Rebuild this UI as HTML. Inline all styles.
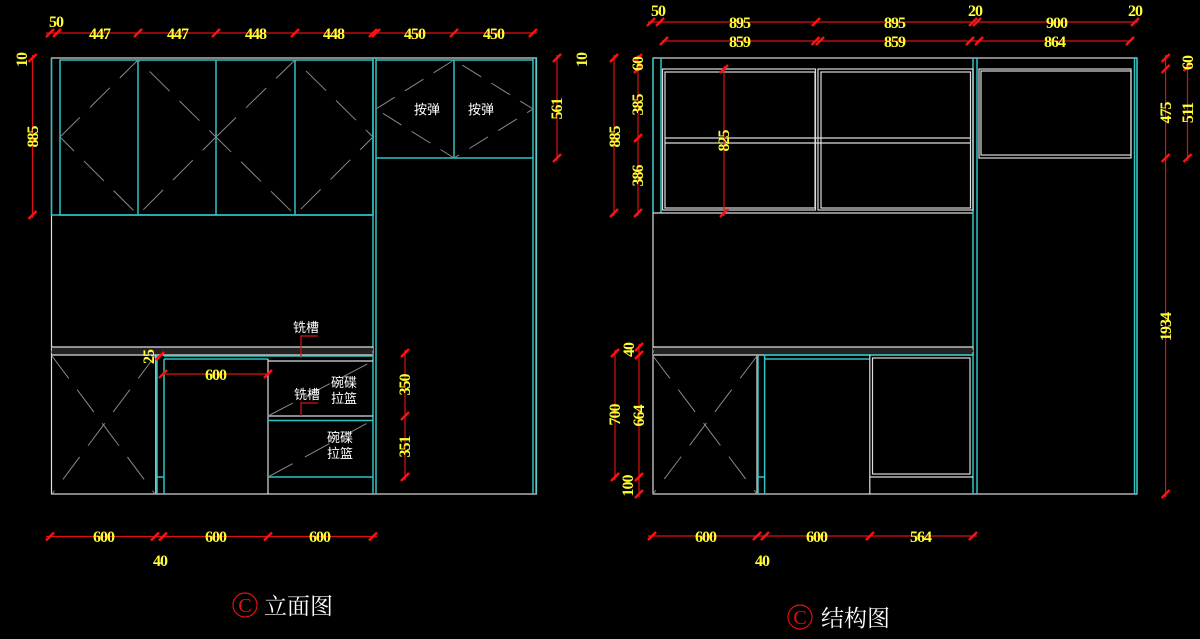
<!DOCTYPE html>
<html><head><meta charset="utf-8"><style>
html,body{margin:0;padding:0;background:#000;width:1200px;height:639px;overflow:hidden}
svg{display:block}
.y{fill:#ffff33;font-family:"Liberation Serif",serif;font-weight:bold;font-size:16px;letter-spacing:-1px}
.w{fill:#fff;font-family:"Liberation Sans","Noto Sans CJK SC",sans-serif;font-size:13px}
.c{stroke:#2cc4c4;stroke-width:1.5;fill:none}
.g{stroke:#ddd;stroke-width:1.2;fill:none}
.d{stroke:#888;stroke-width:1;fill:none;stroke-dasharray:28 14}
.r{stroke:#e01010;stroke-width:1.2;fill:none}
</style></head><body>
<svg width="1200" height="639" viewBox="0 0 1200 639" xmlns="http://www.w3.org/2000/svg">
<defs><g id="t"><line x1="-4" y1="4" x2="4" y2="-4" stroke="#ff1010" stroke-width="2.5"/></g></defs>

<rect x="51.5" y="58" width="485" height="436" class="g"/>
<line x1="51.5" y1="58" x2="51.5" y2="215" class="c"/>
<rect x="60" y="60" width="313" height="155" class="c"/>
<line x1="51.5" y1="215" x2="373" y2="215" class="c"/>
<line x1="138" y1="60" x2="138" y2="215" class="c"/>
<line x1="216" y1="60" x2="216" y2="215" class="c"/>
<line x1="295" y1="60" x2="295" y2="215" class="c"/>
<path class="d" d="M60,137 L138,60 L216,137 L138,215 Z M216,137 L295,60 L373,137 L295,215 Z"/>
<line x1="373" y1="58" x2="373" y2="494" class="c"/>
<line x1="376" y1="58" x2="376" y2="494" class="c"/>
<line x1="533" y1="58" x2="533" y2="494" class="c"/>
<line x1="536" y1="58" x2="536" y2="494" class="c"/>
<line x1="376" y1="60" x2="533" y2="60" class="c"/>
<line x1="376" y1="158" x2="533" y2="158" class="c"/>
<line x1="454" y1="60" x2="454" y2="158" class="c"/>
<path class="d" d="M376,109 L454,60 L533,109 L454,158 Z" style="stroke-dasharray:22 12"/>
<text class="w" x="414" y="114">按弹</text>
<text class="w" x="468" y="114">按弹</text>
<rect x="51.5" y="347" width="321.5" height="8" fill="#222" stroke="#ccc" stroke-width="1" stroke-dasharray="3 2"/>
<line x1="51.5" y1="347" x2="373" y2="347" class="g"/>
<line x1="51.5" y1="355" x2="373" y2="355" class="g"/>
<line x1="155.8" y1="355" x2="155.8" y2="494" class="g"/>
<line x1="157" y1="355" x2="157" y2="494" class="c"/>
<line x1="164" y1="359" x2="164" y2="494" class="c"/>
<line x1="164" y1="359" x2="268" y2="359" class="c"/>
<line x1="157" y1="477" x2="164" y2="477" class="c"/>
<line x1="268" y1="359" x2="268" y2="494" class="g"/>
<path class="d" d="M52,356 L155,494 M155,356 L52,494"/>
<line x1="164" y1="356" x2="373" y2="356" class="c"/>
<line x1="268" y1="361" x2="373" y2="361" class="g"/>
<line x1="268" y1="416" x2="373" y2="416" class="g"/>
<line x1="268" y1="420.5" x2="373" y2="420.5" class="c"/>
<line x1="268" y1="477" x2="373" y2="477" class="c"/>
<line x1="268" y1="416" x2="373" y2="361" class="d"/>
<line x1="268" y1="477" x2="373" y2="420" class="d"/>
<text class="w" x="293" y="332">铣槽</text>
<path class="r" d="M318,336 L301,336 L301,358"/>
<text class="w" x="294" y="399">铣槽</text>
<path class="r" d="M318,403 L301,403 L301,416"/>
<text class="w" x="331" y="387">碗碟</text>
<text class="w" x="331" y="403">拉篮</text>
<text class="w" x="327" y="442">碗碟</text>
<text class="w" x="327" y="458">拉篮</text>

<line x1="46" y1="33" x2="537" y2="33" class="r"/>
<use href="#t" x="50" y="33"/><use href="#t" x="57" y="33"/><use href="#t" x="138" y="33"/><use href="#t" x="216" y="33"/><use href="#t" x="295" y="33"/><use href="#t" x="373" y="33"/><use href="#t" x="376" y="33"/><use href="#t" x="454" y="33"/><use href="#t" x="533" y="33"/>
<text class="y" x="49" y="27">50</text>
<text class="y" x="89" y="39">447</text><text class="y" x="167" y="39">447</text><text class="y" x="245" y="39">448</text><text class="y" x="323" y="39">448</text><text class="y" x="404" y="39">450</text><text class="y" x="483" y="39">450</text>
<line x1="32.5" y1="55" x2="32.5" y2="218" class="r"/>
<use href="#t" x="32.5" y="58"/><use href="#t" x="32.5" y="215"/>
<text class="y" transform="translate(27,60) rotate(-90)" text-anchor="middle">10</text>
<text class="y" transform="translate(38,137) rotate(-90)" text-anchor="middle">885</text>
<line x1="557" y1="55" x2="557" y2="161" class="r"/>
<use href="#t" x="557" y="58"/><use href="#t" x="557" y="158"/>
<text class="y" transform="translate(562,109) rotate(-90)" text-anchor="middle">561</text>
<text class="y" transform="translate(587,60) rotate(-90)" text-anchor="middle">10</text>
<line x1="405" y1="350" x2="405" y2="480" class="r"/>
<use href="#t" x="405" y="353"/><use href="#t" x="405" y="416"/><use href="#t" x="405" y="477"/>
<text class="y" transform="translate(410,385) rotate(-90)" text-anchor="middle">350</text>
<text class="y" transform="translate(410,447) rotate(-90)" text-anchor="middle">351</text>
<text class="y" transform="translate(154,357) rotate(-90)" text-anchor="middle">25</text>
<use href="#t" x="160" y="356"/>
<line x1="163" y1="374" x2="268" y2="374" class="r"/>
<use href="#t" x="163" y="374"/><use href="#t" x="268" y="374"/>
<text class="y" x="205" y="380">600</text>
<line x1="46" y1="536.5" x2="377" y2="536.5" class="r"/>
<use href="#t" x="50" y="536.5"/><use href="#t" x="155" y="536.5"/><use href="#t" x="163" y="536.5"/><use href="#t" x="268" y="536.5"/><use href="#t" x="373" y="536.5"/>
<text class="y" x="93" y="542">600</text><text class="y" x="205" y="542">600</text><text class="y" x="309" y="542">600</text>
<text class="y" x="153" y="566">40</text>
<circle cx="245" cy="605" r="12" fill="none" stroke="#e01010" stroke-width="1.2"/>
<text x="245" y="612" text-anchor="middle" fill="#e01010" font-family="Liberation Serif,serif" font-size="20">C</text>
<text x="264" y="614" fill="#fff" font-family="Liberation Serif,'Noto Serif CJK SC',serif" font-size="23">立面图</text>

<rect x="653" y="58" width="484" height="436" class="g"/>
<line x1="653" y1="58" x2="653" y2="213" class="c"/>
<line x1="661" y1="58" x2="661" y2="213" class="c"/>
<line x1="653" y1="213" x2="973" y2="213" class="g"/>
<line x1="973" y1="58" x2="973" y2="494" class="c"/>
<line x1="977" y1="58" x2="977" y2="494" class="c"/>
<line x1="1134.5" y1="58" x2="1134.5" y2="494" class="c"/>
<line x1="1137" y1="58" x2="1137" y2="494" class="c"/>
<rect x="662.5" y="69" width="153" height="141" class="g"/>
<rect x="665" y="72" width="150" height="136" class="g"/>
<rect x="818" y="69" width="155" height="141" class="g"/>
<rect x="821" y="72" width="149.5" height="136" class="g"/>
<line x1="665" y1="138" x2="970" y2="138" class="g"/><line x1="665" y1="143" x2="970" y2="143" class="g"/>
<rect x="979" y="69" width="152" height="89" class="g"/>
<rect x="981" y="71" width="150" height="84" class="g"/>
<rect x="653" y="347" width="320" height="8" fill="#222" stroke="#ccc" stroke-width="1" stroke-dasharray="3 2"/>
<line x1="653" y1="347" x2="973" y2="347" class="g"/><line x1="653" y1="355" x2="973" y2="355" class="g"/>
<line x1="757" y1="355" x2="757" y2="494" class="g"/>
<line x1="758" y1="355" x2="758" y2="494" class="c"/>
<line x1="764.6" y1="355" x2="764.6" y2="494" class="c"/>
<line x1="764.6" y1="359" x2="869.8" y2="359" class="c"/>
<line x1="758" y1="477" x2="764.6" y2="477" class="c"/>
<line x1="764" y1="355" x2="973" y2="355" class="c"/>
<path class="d" d="M653,356 L757,494 M757,356 L653,494"/>
<line x1="869.8" y1="355" x2="869.8" y2="494" class="g"/>
<rect x="872.5" y="358" width="97.5" height="116" class="g"/>
<line x1="869.8" y1="477" x2="973" y2="477" class="g"/>

<line x1="648" y1="22" x2="1138" y2="22" class="r"/>
<use href="#t" x="651" y="22"/><use href="#t" x="660" y="22"/><use href="#t" x="816" y="22"/><use href="#t" x="973" y="22"/><use href="#t" x="977" y="22"/><use href="#t" x="1135" y="22"/>
<text class="y" x="651" y="16">50</text><text class="y" x="968" y="16">20</text><text class="y" x="1128" y="16">20</text>
<text class="y" x="729" y="28">895</text><text class="y" x="884" y="28">895</text><text class="y" x="1046" y="28">900</text>
<line x1="662" y1="41" x2="1132" y2="41" class="r"/>
<use href="#t" x="664" y="41"/><use href="#t" x="815.5" y="41"/><use href="#t" x="820" y="41"/><use href="#t" x="970" y="41"/><use href="#t" x="979" y="41"/><use href="#t" x="1130" y="41"/>
<text class="y" x="729" y="47">859</text><text class="y" x="884" y="47">859</text><text class="y" x="1044" y="47">864</text>
<line x1="614" y1="55" x2="614" y2="216" class="r"/>
<use href="#t" x="614" y="58"/><use href="#t" x="614" y="213"/>
<text class="y" transform="translate(620,137) rotate(-90)" text-anchor="middle">885</text>
<line x1="638" y1="55" x2="638" y2="216" class="r"/>
<use href="#t" x="638" y="58"/><use href="#t" x="638" y="69"/><use href="#t" x="638" y="138"/><use href="#t" x="638" y="213"/>
<text class="y" transform="translate(643,64) rotate(-90)" text-anchor="middle">60</text>
<text class="y" transform="translate(643,105) rotate(-90)" text-anchor="middle">385</text>
<text class="y" transform="translate(643,176) rotate(-90)" text-anchor="middle">386</text>
<line x1="724" y1="66" x2="724" y2="216" class="r"/>
<use href="#t" x="724" y="69"/><use href="#t" x="724" y="213"/>
<text class="y" transform="translate(729,141) rotate(-90)" text-anchor="middle">825</text>
<line x1="1165.6" y1="55" x2="1165.6" y2="497" class="r"/>
<use href="#t" x="1165.6" y="58"/><use href="#t" x="1165.6" y="69"/><use href="#t" x="1165.6" y="158"/><use href="#t" x="1165.6" y="494"/>
<text class="y" transform="translate(1171,113) rotate(-90)" text-anchor="middle">475</text>
<text class="y" transform="translate(1171,327) rotate(-90)" text-anchor="middle">1934</text>
<line x1="1187.5" y1="64" x2="1187.5" y2="161" class="r"/>
<use href="#t" x="1187.5" y="67"/><use href="#t" x="1187.5" y="158"/>
<text class="y" transform="translate(1193,63) rotate(-90)" text-anchor="middle">60</text>
<text class="y" transform="translate(1193,113) rotate(-90)" text-anchor="middle">511</text>
<line x1="615" y1="350" x2="615" y2="480" class="r"/>
<use href="#t" x="615" y="353"/><use href="#t" x="615" y="477"/>
<text class="y" transform="translate(620,415) rotate(-90)" text-anchor="middle">700</text>
<line x1="639" y1="344" x2="639" y2="497" class="r"/>
<use href="#t" x="639" y="347"/><use href="#t" x="639" y="355"/><use href="#t" x="639" y="477"/><use href="#t" x="639" y="494"/>
<text class="y" transform="translate(634,350) rotate(-90)" text-anchor="middle">40</text>
<text class="y" transform="translate(644,416) rotate(-90)" text-anchor="middle">664</text>
<text class="y" transform="translate(633,486) rotate(-90)" text-anchor="middle">100</text>
<line x1="648" y1="536" x2="977" y2="536" class="r"/>
<use href="#t" x="652" y="536"/><use href="#t" x="757" y="536"/><use href="#t" x="765" y="536"/><use href="#t" x="870" y="536"/><use href="#t" x="973" y="536"/>
<text class="y" x="695" y="542">600</text><text class="y" x="806" y="542">600</text><text class="y" x="910" y="542">564</text>
<text class="y" x="755" y="566">40</text>
<circle cx="800" cy="617" r="12" fill="none" stroke="#e01010" stroke-width="1.2"/>
<text x="800" y="624" text-anchor="middle" fill="#e01010" font-family="Liberation Serif,serif" font-size="20">C</text>
<text x="821" y="626" fill="#fff" font-family="Liberation Serif,'Noto Serif CJK SC',serif" font-size="23">结构图</text>
</svg>
</body></html>
